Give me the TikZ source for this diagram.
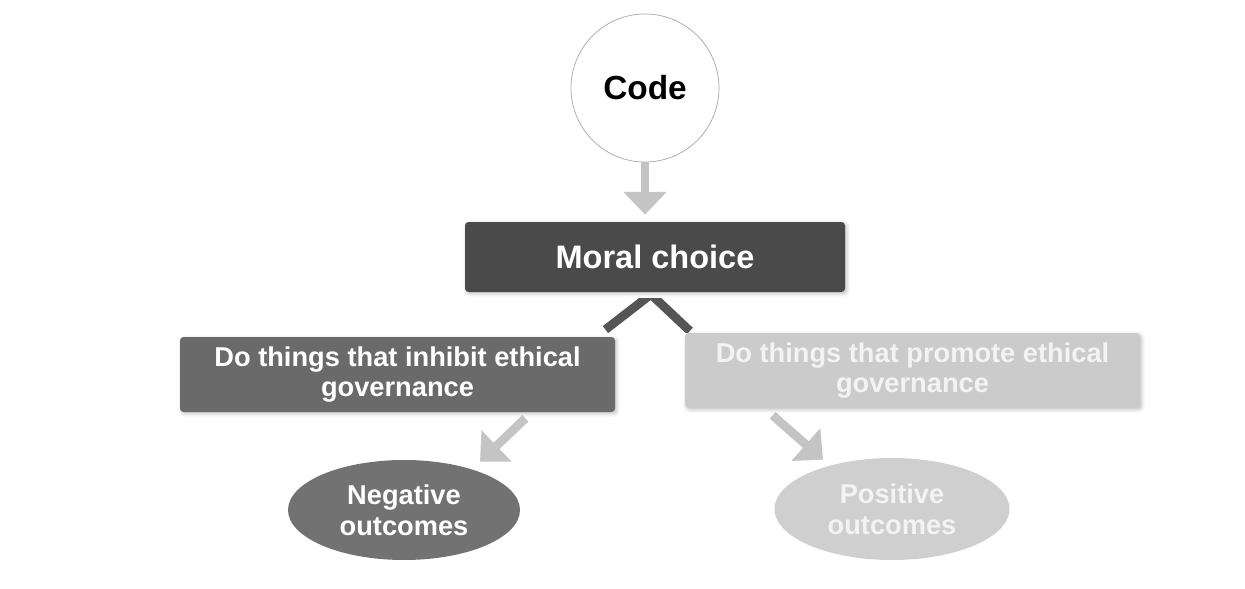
\documentclass[tikz,border=0pt]{standalone}
\usepackage{fontspec}
\setmainfont{Liberation Sans}
\usepackage{xcolor}
\usetikzlibrary{positioning, arrows.meta, shapes.geometric, shadows.blur}

\definecolor{choicegray}{HTML}{4A4A4A}
\definecolor{inhibitgray}{HTML}{6A6A6A}
\definecolor{promotegray}{HTML}{CBCBCB}
\definecolor{neggray}{HTML}{727272}
\definecolor{posgray}{HTML}{CFCFCF}
\definecolor{arrowgray}{HTML}{C4C4C4}
\definecolor{leggray}{HTML}{555555}
\definecolor{palewhite}{HTML}{F3F3F3}

\begin{document}
\begin{tikzpicture}[
    block/.style={rectangle, rounded corners=2pt, align=center, text=white,
        blur shadow={shadow xshift=1pt, shadow yshift=-1pt, shadow blur steps=4, shadow opacity=25}},
    outcome/.style={ellipse, inner sep=0pt, align=center, text=white,
        font={\fontsize{15.5}{17.5}\selectfont\bfseries}},
    flow/.style={-{Triangle[length=13pt, width=24pt]}, line width=5pt, arrowgray},
    leg/.style={line width=5pt, leggray}
]
\useasboundingbox (0,0) rectangle (24.9,-11.78);

\node[circle, draw=gray!70, fill=white, thin, minimum size=2.96cm, inner sep=0pt,
    font={\fontsize{19}{21}\selectfont\bfseries}] (code) at (12.9,-1.76) {Code};
\node[block, fill=choicegray, minimum width=7.6cm, minimum height=1.4cm,
    font={\fontsize{18.5}{20}\selectfont\bfseries}] (choice) at (13.1,-5.14) {Moral choice};
\node[block, fill=inhibitgray, minimum width=8.7cm, minimum height=1.5cm,
    font={\fontsize{15.5}{17.5}\selectfont\bfseries}] (inhibit) at (7.95,-7.49) {Do things that inhibit ethical\\governance};
\node[block, fill=promotegray, text=palewhite, minimum width=9.1cm, minimum height=1.5cm,
    font={\fontsize{15.5}{17.5}\selectfont\bfseries}] (promote) at (18.25,-7.41) {Do things that promote ethical\\governance};
\node[outcome, fill=neggray, minimum width=4.64cm, minimum height=2.0cm] (negative) at (8.08,-10.2) {Negative\\outcomes};
\node[outcome, fill=posgray, text=palewhite, minimum width=4.7cm, minimum height=2.04cm] (positive) at (17.84,-10.18) {Positive\\outcomes};

\coordinate (fork) at ([xshift=-0.08cm, yshift=-0.04cm]choice.south);

\draw[flow, shorten >=0.14cm] (code.south) -- (code.south |- choice.north);
% legs cut flat under the box
\begin{scope}
\clip ([yshift=-0.12cm]choice.south west) rectangle (promote.north east);
\draw[leg, shorten >=0.23cm] (fork) -- ([xshift=-0.38cm]inhibit.north east);
\draw[leg, shorten >=0.05cm] (fork) -- ([xshift=0.14cm]promote.north west);
\end{scope}
\draw[flow] ([xshift=-1.8cm, yshift=-0.12cm]inhibit.south east) -- ([xshift=1.52cm, yshift=-0.04cm]negative.north);
\draw[flow] ([xshift=1.76cm, yshift=-0.14cm]promote.south west) -- ([xshift=-1.38cm, yshift=-0.04cm]positive.north);

\end{tikzpicture}
\end{document}
